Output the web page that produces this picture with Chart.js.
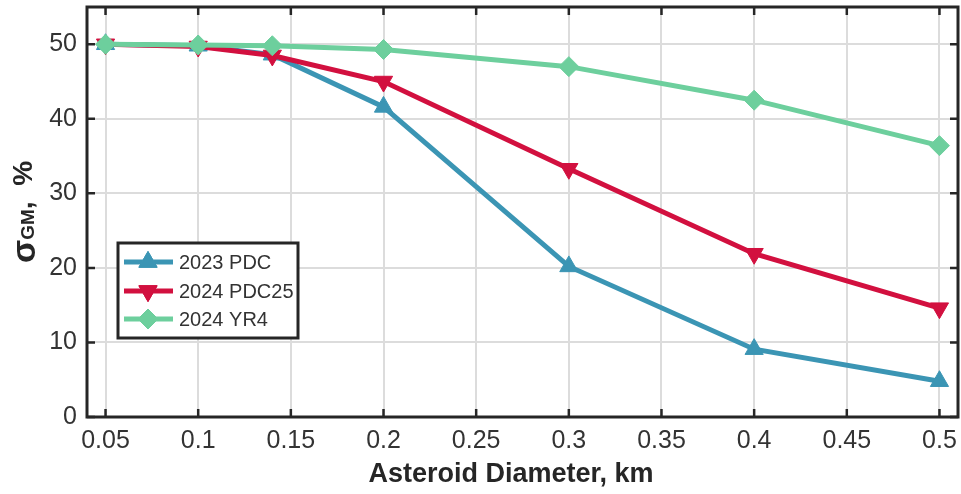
<!DOCTYPE html>
<html>
<head>
<meta charset="utf-8">
<script src="https://cdn.jsdelivr.net/npm/chart.js@4/dist/chart.umd.min.js"></script>
<style>
  html, body { margin: 0; padding: 0; background: #ffffff; }
  #wrap { width: 961px; height: 494px; }
</style>
</head>
<body>
<div id="wrap"><canvas id="c" width="961" height="494"></canvas></div>
<script>
// ---- data ----
const diameters = [0.05, 0.1, 0.14, 0.2, 0.3, 0.4, 0.5];
const pdc2023   = [50.0, 49.8, 48.6, 41.6, 20.2, 9.1, 4.8];
const pdc2024   = [50.0, 49.7, 48.5, 45.0, 33.3, 21.9, 14.6];
const yr4_2024  = [50.0, 49.9, 49.8, 49.3, 47.0, 42.5, 36.4];
const seriesNames = ['2023 PDC', '2024 PDC25', '2024 YR4'];
const xTickValues = [0.05, 0.1, 0.15, 0.2, 0.25, 0.3, 0.35, 0.4, 0.45, 0.5];
const xTickLabels = ['0.05', '0.1', '0.15', '0.2', '0.25', '0.3', '0.35', '0.4', '0.45', '0.5'];
const yTickValues = [0, 10, 20, 30, 40, 50];
const yTickLabels = ['0', '10', '20', '30', '40', '50'];

const colors = ['#3b95b4', '#d2103f', '#6dcf9d'];
const styles = [
  { pointStyle: 'triangle', rotation: 0, radius: 10.5 },
  { pointStyle: 'triangle', rotation: 180, radius: 10.5 },
  { pointStyle: 'rectRot', rotation: 0, radius: 10 }
];
const seriesValues = [pdc2023, pdc2024, yr4_2024];
const drawOrder = [2, 1, 0]; // green on top

const AXIS = '#262626';
const FONT = '"Liberation Sans", Arial, sans-serif';

const datasets = seriesValues.map((vals, i) => ({
  label: seriesNames[i],
  data: diameters.map((d, j) => ({ x: d, y: vals[j] })),
  borderColor: colors[i],
  backgroundColor: colors[i],
  pointBackgroundColor: colors[i],
  pointBorderColor: colors[i],
  borderWidth: 5,
  pointStyle: styles[i].pointStyle,
  rotation: styles[i].rotation,
  pointRadius: styles[i].radius,
  pointBorderWidth: 1,
  tension: 0,
  clip: false,
  order: drawOrder[i]
}));

const zeroPad = s => { s.paddingTop = 0; s.paddingBottom = 0; s.paddingLeft = 0; s.paddingRight = 0; };

const framePlugin = {
  id: 'frame',
  afterDraw(chart) {
    const ctx = chart.ctx;
    const a = chart.chartArea;
    const xs = chart.scales.x, ys = chart.scales.y;
    ctx.save();
    // frame
    ctx.strokeStyle = AXIS;
    ctx.lineWidth = 3;
    ctx.strokeRect(a.left, a.top, a.right - a.left, a.bottom - a.top);
    // inside ticks
    ctx.lineWidth = 2.5;
    const L = 8;
    ctx.beginPath();
    xTickValues.forEach(v => {
      const px = xs.getPixelForValue(v);
      ctx.moveTo(px, a.bottom); ctx.lineTo(px, a.bottom - L);
      ctx.moveTo(px, a.top); ctx.lineTo(px, a.top + L);
    });
    yTickValues.forEach(v => {
      const py = ys.getPixelForValue(v);
      ctx.moveTo(a.left, py); ctx.lineTo(a.left + L, py);
      ctx.moveTo(a.right, py); ctx.lineTo(a.right - L, py);
    });
    ctx.stroke();

    // x axis title
    ctx.fillStyle = AXIS;
    ctx.font = 'bold 27px ' + FONT;
    ctx.textAlign = 'center';
    ctx.textBaseline = 'alphabetic';
    ctx.fillText('Asteroid Diameter, km', 511, 482);

    // y axis title: sigma_GM, %
    ctx.save();
    ctx.translate(33, (a.top + a.bottom) / 2);
    ctx.rotate(-Math.PI / 2);
    const parts = [
      { t: 'σ', f: 'bold 34px ' + FONT, dy: 2 },
      { t: 'GM', f: 'bold 19px ' + FONT, dy: 1 },
      { t: ',  %', f: 'bold 28px ' + FONT, dy: -1 }
    ];
    let total = 0;
    parts.forEach(p => { ctx.font = p.f; p.w = ctx.measureText(p.t).width; total += p.w; });
    let cx = -total / 2;
    ctx.textAlign = 'left';
    parts.forEach(p => { ctx.font = p.f; ctx.fillText(p.t, cx, p.dy); cx += p.w; });
    ctx.restore();

    // legend
    const bx = 118, by = 243, bw = 180, bh = 95;
    ctx.fillStyle = '#ffffff';
    ctx.fillRect(bx, by, bw, bh);
    ctx.strokeStyle = AXIS;
    ctx.lineWidth = 3;
    ctx.strokeRect(bx, by, bw, bh);
    const rows = [262, 291, 319];
    seriesNames.forEach((name, i) => {
      const y = rows[i];
      ctx.strokeStyle = colors[i];
      ctx.lineWidth = 5;
      ctx.beginPath(); ctx.moveTo(124, y); ctx.lineTo(173, y); ctx.stroke();
      ctx.lineWidth = 1;
      Chart.helpers.drawPoint(ctx, {
        pointStyle: styles[i].pointStyle,
        rotation: styles[i].rotation,
        radius: styles[i].radius,
        borderWidth: 1
      }, 148, y);
      ctx.fillStyle = colors[i];
      ctx.strokeStyle = colors[i];
      ctx.fill(); ctx.stroke();
      ctx.fillStyle = '#333333';
      ctx.font = '20px ' + FONT;
      ctx.textAlign = 'left';
      ctx.textBaseline = 'middle';
      ctx.fillText(name, 179, y + 1);
    });
    ctx.restore();
  }
};

new Chart(document.getElementById('c'), {
  type: 'line',
  data: { datasets },
  options: {
    responsive: false,
    devicePixelRatio: 1,
    animation: false,
    layout: { autoPadding: false, padding: { top: 7, right: 3, left: 0, bottom: 0 } },
    plugins: { legend: { display: false }, tooltip: { enabled: false } },
    scales: {
      x: {
        type: 'linear',
        min: 0.04,
        max: 0.51,
        afterBuildTicks: s => { s.ticks = xTickValues.map(v => ({ value: v })); },
        afterFit: s => { s.height = 77; zeroPad(s); },
        ticks: {
          autoSkip: false,
          maxRotation: 0,
          padding: 9,
          color: '#333333',
          font: { family: FONT, size: 25 },
          callback: (v, i) => xTickLabels[i]
        },
        grid: { color: '#dcdcdc', lineWidth: 2, drawTicks: false },
        border: { display: false }
      },
      y: {
        type: 'linear',
        min: 0,
        max: 55,
        afterBuildTicks: s => { s.ticks = yTickValues.map(v => ({ value: v })); },
        afterFit: s => { s.width = 87; zeroPad(s); },
        ticks: {
          padding: 10,
          color: '#333333',
          font: { family: FONT, size: 25 },
          callback: (v, i) => yTickLabels[i]
        },
        grid: { color: '#dcdcdc', lineWidth: 2, drawTicks: false },
        border: { display: false }
      }
    }
  },
  plugins: [framePlugin]
});
</script>
</body>
</html>
